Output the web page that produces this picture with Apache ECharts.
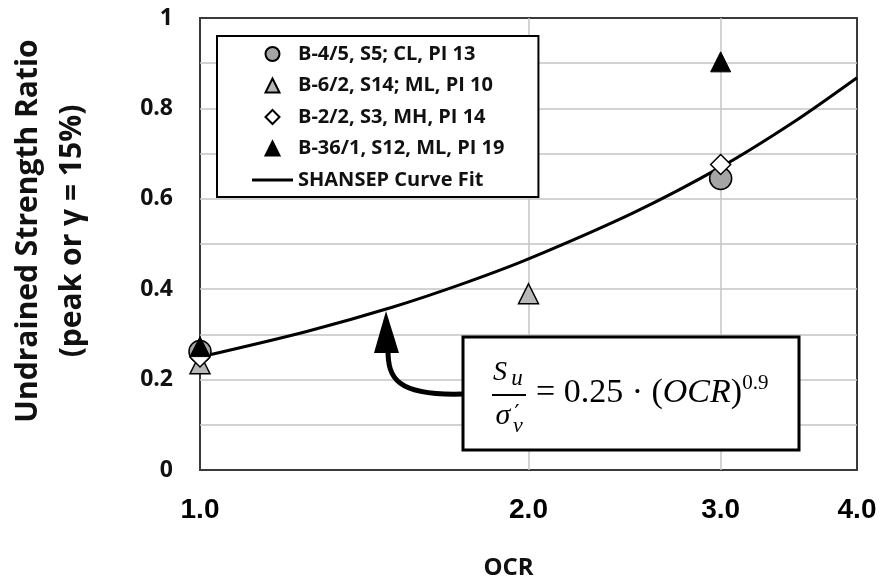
<!DOCTYPE html>
<html>
<head>
<meta charset="utf-8">
<script src="https://cdn.jsdelivr.net/npm/echarts@6/dist/echarts.min.js"></script>
<style>
html, body { margin: 0; padding: 0; background: #fff; }
#main { width: 885px; height: 581px; }
</style>
</head>
<body>
<div id="main"></div>
<script>
// tick values on the OCR (log) axis
var ocrLabels = [1, 2, 3, 4];
var ocrGrid = [2, 3];

// test results, [OCR, Su/sigma'v]
var b45 = [[1, 0.262], [3, 0.645]];
var b62 = [[1, 0.235], [2, 0.39]];
var b22 = [[1, 0.25], [3, 0.676]];
var b361 = [[1, 0.273], [3, 0.903]];

// SHANSEP fit
var fitOcr = [1, 1.25, 1.5, 1.75, 2, 2.5, 3, 3.5, 4];
var fitRatio = [0.25, 0.306, 0.36, 0.414, 0.467, 0.57, 0.67, 0.77, 0.868];

var names = ['B-4/5, S5; CL, PI 13', 'B-6/2, S14; ML, PI 10', 'B-2/2, S3, MH, PI 14',
    'B-36/1, S12, ML, PI 19', 'SHANSEP Curve Fit'];

var chart = echarts.init(document.getElementById('main'));

var fitData = fitOcr.map(function (x, i) { return [x, fitRatio[i]]; });
var gridLine = { color: '#c4c4c4', width: 1.5 };
var serif = 'Liberation Serif';
var sans = 'Open Sans';
var triPath = 'path://M5,0 L10,10 L0,10 Z';
var diaPath = 'path://M5,0 L10,5 L5,10 L0,5 Z';

var option = {
    animation: false,
    backgroundColor: '#fff',
    grid: {
        left: 200, right: 28, top: 18, bottom: 111,
        outerBoundsMode: 'none', containLabel: false,
        show: true, borderColor: '#3a3a3a', borderWidth: 2, backgroundColor: 'transparent'
    },
    legend: {
        orient: 'vertical', left: 217, top: 36,
        data: [
            { name: names[0], icon: 'circle' },
            { name: names[1], icon: triPath },
            { name: names[2], icon: diaPath },
            { name: names[3], icon: triPath },
            { name: names[4], icon: 'path://M0,0 L41,0 L41,3 L0,3 Z' }
        ],
        itemWidth: 41, itemHeight: 14, itemGap: 11.5,
        padding: [8, 34, 7, 35],
        borderColor: '#000', borderWidth: 2, backgroundColor: '#fff',
        selectedMode: false,
        textStyle: { fontFamily: sans, fontWeight: 'bold', fontSize: 20, color: '#111', lineHeight: 20 }
    },
    xAxis: {
        type: 'log', logBase: 10, min: 1, max: 4,
        name: 'OCR', nameLocation: 'middle', nameGap: 86,
        nameTextStyle: { fontFamily: sans, fontWeight: 'bold', fontSize: 24, color: '#111', padding: [0, 40, 0, 0] },
        axisLine: { show: false },
        axisTick: { show: false, customValues: ocrGrid },
        axisLabel: {
            customValues: ocrLabels,
            formatter: function (v) { return Number(v).toFixed(1); },
            fontFamily: 'Liberation Sans', fontWeight: 'bold', fontSize: 28, color: '#000', margin: 26
        },
        splitLine: { show: true, lineStyle: gridLine }
    },
    yAxis: {
        type: 'value', min: 0, max: 1, interval: 0.2,
        name: 'Undrained Strength Ratio\n(peak or \u03b3 = 15%)',
        nameLocation: 'middle', nameRotate: 90, nameGap: 106,
        nameTextStyle: {
            fontFamily: sans, fontWeight: 'bold', fontSize: 30, lineHeight: 44, color: '#111',
            padding: [0, 0, 0, 26]
        },
        axisLine: { show: false },
        axisTick: { show: false },
        axisLabel: { fontFamily: sans, fontWeight: 'bold', fontSize: 23, color: '#111', margin: 27 },
        splitLine: { show: true, showMinLine: false, showMaxLine: false, lineStyle: gridLine },
        minorTick: { show: false, splitNumber: 2 },
        minorSplitLine: { show: true, lineStyle: gridLine }
    },
    series: [
        {
            name: names[4], type: 'line', data: fitData, symbol: 'none', smooth: 0.3,
            lineStyle: { color: '#000', width: 3 }, itemStyle: { color: '#000' }, z: 2
        },
        {
            name: names[0], type: 'scatter', data: b45, symbol: 'circle', symbolSize: 22,
            itemStyle: { color: '#a5a5a5', borderColor: '#000', borderWidth: 1.5, opacity: 1 }, z: 3
        },
        {
            name: names[1], type: 'scatter', data: b62, symbol: 'triangle', symbolSize: 20,
            itemStyle: { color: '#b8b8b8', borderColor: '#000', borderWidth: 1.5, opacity: 1 }, z: 3
        },
        {
            name: names[2], type: 'scatter', data: b22, symbol: 'diamond', symbolSize: 20,
            itemStyle: { color: '#fff', borderColor: '#000', borderWidth: 1.5, opacity: 1 }, z: 3
        },
        {
            name: names[3], type: 'scatter', data: b361, symbol: 'triangle', symbolSize: 20,
            itemStyle: { color: '#000', borderColor: '#000', borderWidth: 1, opacity: 1 }, z: 3
        }
    ],
    graphic: [
        {
            type: 'bezierCurve', z: 10,
            shape: { x1: 463, y1: 394, cpx1: 396, cpy1: 396, cpx2: 388, cpy2: 378, x2: 388, y2: 350 },
            style: { stroke: '#000', lineWidth: 5, fill: null }
        },
        {
            type: 'polygon', z: 10,
            shape: { points: [[386, 311], [374, 353], [399, 353]] },
            style: { fill: '#000' }
        },
        {
            type: 'rect', z: 10,
            shape: { x: 463, y: 337, width: 336, height: 113 },
            style: { fill: '#fff', stroke: '#000', lineWidth: 3 }
        },
        {
            type: 'text', z: 11, x: 500, y: 373,
            style: { text: 'S', fontSize: 28, fontStyle: 'italic', fontFamily: serif, fill: '#000', align: 'center', verticalAlign: 'middle' }
        },
        {
            type: 'text', z: 11, x: 517, y: 379,
            style: { text: 'u', fontSize: 23, fontStyle: 'italic', fontFamily: serif, fill: '#000', align: 'center', verticalAlign: 'middle' }
        },
        {
            type: 'rect', z: 11,
            shape: { x: 492, y: 394, width: 34, height: 2 },
            style: { fill: '#000' }
        },
        {
            type: 'text', z: 11, x: 503, y: 416,
            style: { text: '\u03c3', fontSize: 30, fontStyle: 'italic', fontFamily: serif, fill: '#000', align: 'center', verticalAlign: 'middle' }
        },
        {
            type: 'text', z: 11, x: 517, y: 414,
            style: { text: '\u2032', fontSize: 22, fontFamily: 'DejaVu Serif', fill: '#000', align: 'center', verticalAlign: 'middle' }
        },
        {
            type: 'text', z: 11, x: 518, y: 426,
            style: { text: 'v', fontSize: 22, fontStyle: 'italic', fontFamily: serif, fill: '#000', align: 'center', verticalAlign: 'middle' }
        },
        {
            type: 'text', z: 11, x: 536, y: 393,
            style: {
                text: '{m|= 0.25 \u00b7 (}{it|OCR}{m|)}{sup|0.9}',
                align: 'left', verticalAlign: 'middle', fill: '#000',
                rich: {
                    m: { fontSize: 34, fontFamily: serif, lineHeight: 40 },
                    it: { fontSize: 34, fontFamily: serif, fontStyle: 'italic', lineHeight: 40 },
                    sup: { fontSize: 21, fontFamily: serif, lineHeight: 32, verticalAlign: 'top' }
                }
            }
        }
    ]
};

chart.setOption(option);
</script>
</body>
</html>
